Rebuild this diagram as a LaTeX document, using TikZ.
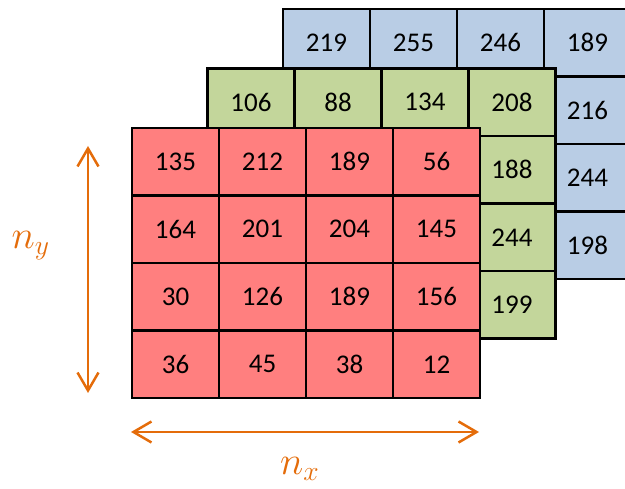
\documentclass[tikz,border=0pt]{standalone}
\usepackage{fontspec}
\setmainfont{Carlito}
\usepackage{amsmath}
\usetikzlibrary{arrows.meta}
\definecolor{layerR}{HTML}{FF7F7F}
\definecolor{layerG}{HTML}{C3D69B}
\definecolor{layerB}{HTML}{B9CDE5}
\definecolor{dimension}{HTML}{E46C0A}
\tikzset{
  cell/.style={draw=black, line width=2.5pt, minimum width=87pt, minimum height=67.5pt, inner sep=0pt, font=\fontsize{27}{27}\selectfont},
  dimarrow/.style={dimension, line width=2.5pt, {Straight Barb[length=18pt,width=21pt]}-{Straight Barb[length=18pt,width=21pt]}},
  dimlabel/.style={text=dimension, font=\LARGE, scale=2.3}
}
\begin{document}
\begin{tikzpicture}[x=1pt,y=-1pt]
  \useasboundingbox (0,0) rectangle (625,489);
  \clip (0,0) rectangle (625,489);
  \foreach \col/\val in {0/219,1/255,2/246,3/189}
    \node[cell,fill=layerB] (b0\col) at ({326.5+87*\col},42.75) {\val};
  \foreach \row/\val in {1/216,2/244,3/198}
    \node[cell,fill=layerB] (b\row3) at (587.5,{42.75+67.5*\row}) {\val};
  \foreach \col/\val in {0/106,1/88,2/134,3/208}
    \node[cell,fill=layerG] (g0\col) at ({251+87*\col},102.25) {\val};
  \foreach \row/\val in {1/188,2/244,3/199}
    \node[cell,fill=layerG] (g\row3) at (512,{102.25+67.5*\row}) {\val};
  \foreach \row/\vals in {0/{135,212,189,56},1/{164,201,204,145},2/{30,126,189,156},3/{36,45,38,12}}
    \foreach \val [count=\col from 0] in \vals
      \node[cell,fill=layerR] (r\row\col) at ({175.5+87*\col},{161.75+67.5*\row}) {\val};
  \coordinate (ytop) at (88,146);
  \coordinate (ybot) at (88,393);
  \coordinate (xleft) at (131,432);
  \coordinate (xright) at (479,432);
  \draw[dimarrow] (ytop) -- (ybot);
  \draw[dimarrow] (xleft) -- (xright);
  \node[dimlabel] (ny) at (31,246) {$n_y$};
  \node[dimlabel] (nx) at (300,469) {$n_x$};
\end{tikzpicture}
\end{document}
